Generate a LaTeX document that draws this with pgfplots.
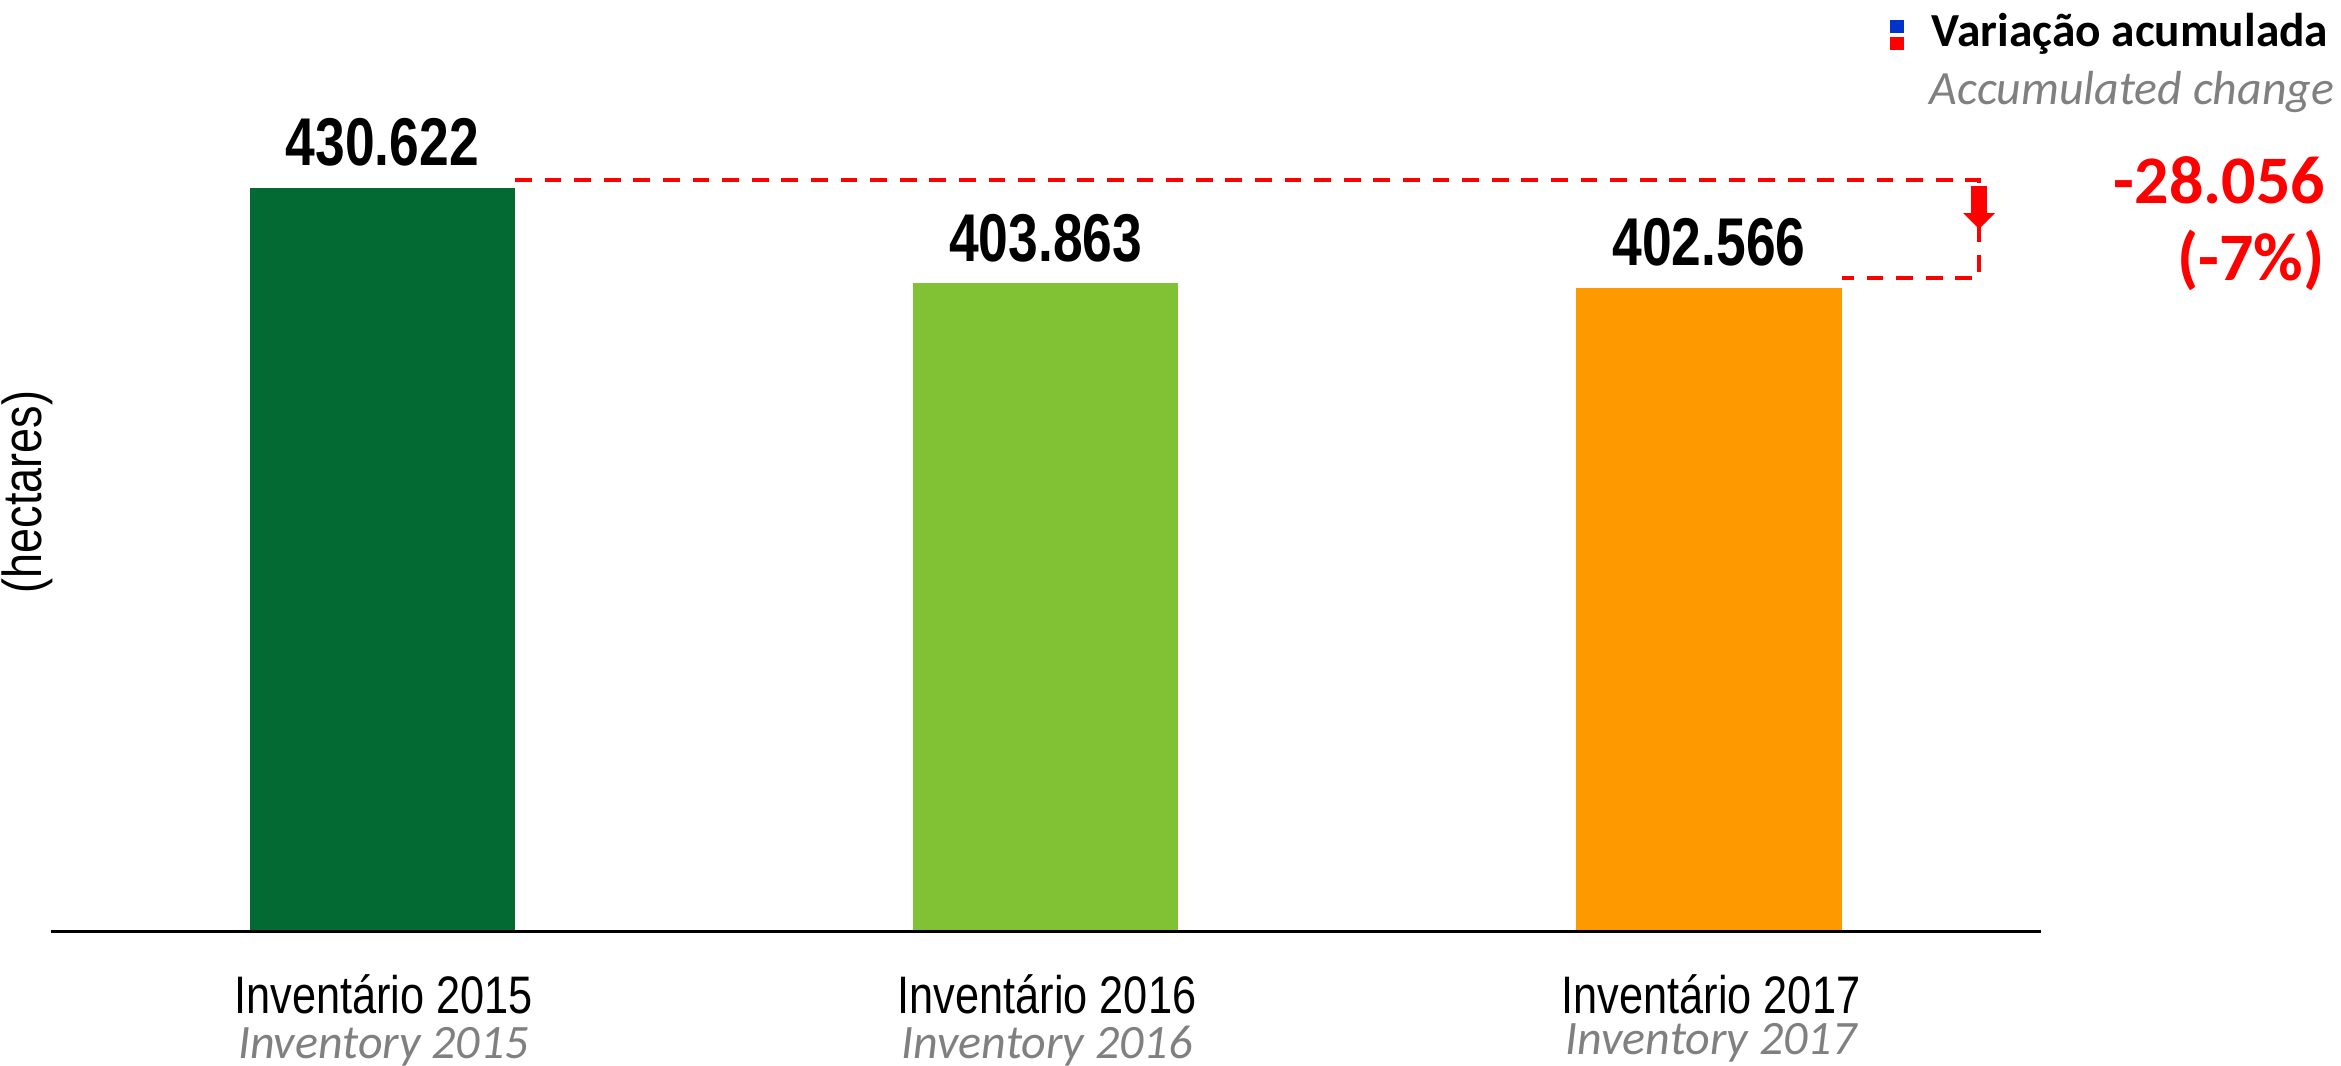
\documentclass[border=0pt]{standalone}
\usepackage{pgfplots}
\pgfplotsset{compat=1.18}
\usepackage{fontspec}
\setmainfont{Liberation Sans}
\newfontfamily\narrowfont[FakeStretch=0.82]{Liberation Sans}
\newfontfamily\valuefont[FakeStretch=0.79]{Liberation Sans}
\newfontfamily\calibri{Carlito}
\definecolor{darkgreen}{RGB}{3,106,51}
\definecolor{lightgreen}{RGB}{128,194,52}
\definecolor{orangebar}{RGB}{255,153,0}
\definecolor{legendblue}{RGB}{0,51,204}
\definecolor{grayt}{RGB}{128,128,128}
\begin{document}
\begin{tikzpicture}
\begin{scope}[shift={(-12.675pt,232.925pt)},x=0.25pt,y=-0.25pt]
\useasboundingbox (0,0) rectangle (2341,1064);
\end{scope}
\begin{axis}[
  scale only axis,
  width=497.5pt, height=207.925pt,
  xmin=-0.5, xmax=2.5,
  ymin=221872, ymax=455214,
  hide axis,
  clip mode=individual,
]
\addplot[ybar, bar width=0.4, bar shift=0pt, fill=darkgreen, draw=none] coordinates {(0,430622)};
\addplot[ybar, bar width=0.4, bar shift=0pt, fill=lightgreen, draw=none] coordinates {(1,403863)};
\addplot[ybar, bar width=0.4, bar shift=0pt, fill=orangebar, draw=none] coordinates {(2,402566)};
\draw[line width=0.75pt, black] (rel axis cs:0,0) -- (rel axis cs:1,0);
\draw[red, line width=1pt, dash pattern=on 4.2pt off 3.2pt]
  (axis cs:0.2,432782) -- (axis cs:2.407,432782) -- (axis cs:2.407,405287) -- (axis cs:2.2,405287);
\node[font=\valuefont\bfseries\fontsize{16.9pt}{18pt}\selectfont, anchor=base, yshift=5.5pt, inner sep=0pt] at (axis cs:0,430622) {430.622};
\node[font=\valuefont\bfseries\fontsize{16.9pt}{18pt}\selectfont, anchor=base, yshift=5.5pt, inner sep=0pt] at (axis cs:1,403863) {403.863};
\node[font=\valuefont\bfseries\fontsize{16.9pt}{18pt}\selectfont, anchor=base, yshift=5.5pt, inner sep=0pt] at (axis cs:2,402566) {402.566};
\end{axis}
\begin{scope}[shift={(-12.675pt,232.925pt)},x=0.25pt,y=-0.25pt]
% arrow
\fill[red] (1971,186) rectangle (1987,213);
\fill[red] (1963,213) -- (1995,213) -- (1979,229) -- cycle;
% y label
\node[rotate=90, font=\narrowfont\fontsize{13.7pt}{15pt}\selectfont, inner sep=0pt] at (27,492) {(hectares)};
% category labels
\node[anchor=base, inner sep=0pt, font=\narrowfont\fontsize{13.2pt}{15pt}\selectfont] at (383.5,1013) {Inventário 2015};
\node[anchor=base, inner sep=0pt, font=\narrowfont\fontsize{13.2pt}{15pt}\selectfont] at (1047,1013) {Inventário 2016};
\node[anchor=base, inner sep=0pt, font=\narrowfont\fontsize{13.2pt}{15pt}\selectfont] at (1711,1013) {Inventário 2017};
\node[anchor=base, inner sep=0pt, text=grayt, font=\calibri\itshape\fontsize{12pt}{14pt}\selectfont] at (383.5,1058) {Inventory 2015};
\node[anchor=base, inner sep=0pt, text=grayt, font=\calibri\itshape\fontsize{12pt}{14pt}\selectfont] at (1047,1058) {Inventory 2016};
\node[anchor=base, inner sep=0pt, text=grayt, font=\calibri\itshape\fontsize{12pt}{14pt}\selectfont] at (1711,1054) {Inventory 2017};
% legend
\fill[legendblue] (1890,20) rectangle (1904,33);
\fill[red] (1890,37) rectangle (1904,50);
\node[anchor=base west, inner sep=0pt, font=\calibri\bfseries\fontsize{11.85pt}{14pt}\selectfont] at (1931,47) {Variação acumulada};
\node[anchor=base west, inner sep=0pt, text=grayt, font=\calibri\itshape\fontsize{11.95pt}{14pt}\selectfont] at (1929,105) {Accumulated change};
\node[anchor=base east, inner sep=0pt, text=red, font=\calibri\bfseries\fontsize{17pt}{18pt}\selectfont] at (2326,204) {-28.056};
\node[anchor=base east, inner sep=0pt, text=red, font=\calibri\bfseries\fontsize{17pt}{18pt}\selectfont] at (2325,280) {(-7\%)};
\end{scope}
\end{tikzpicture}
\end{document}
